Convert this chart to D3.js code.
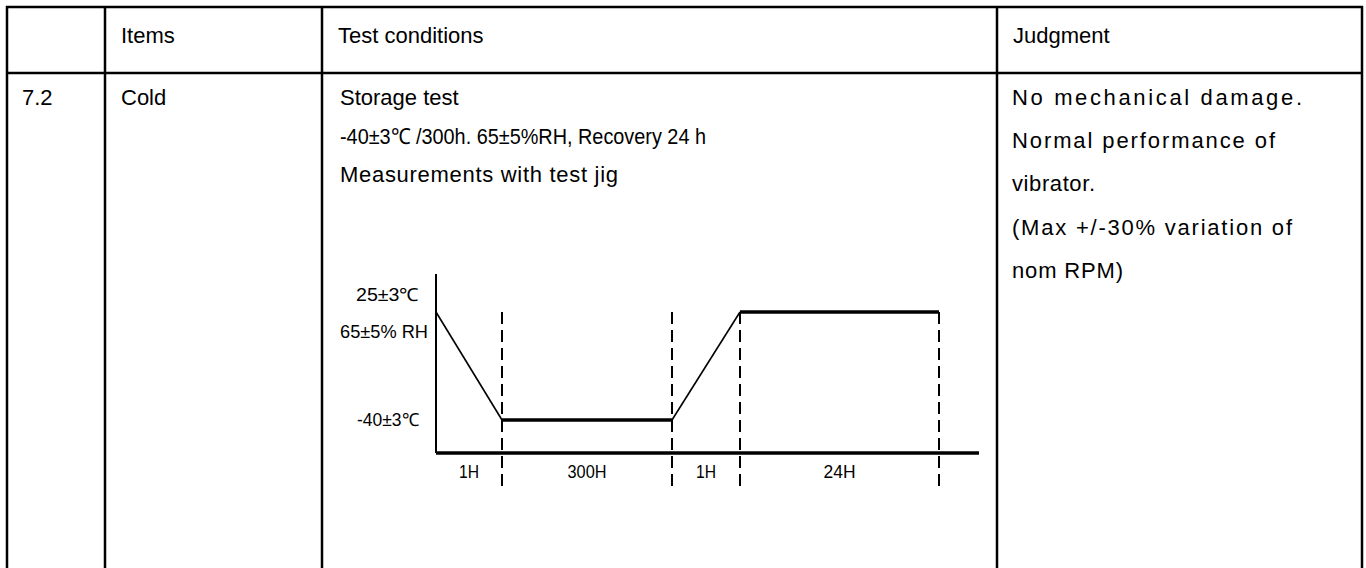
<!DOCTYPE html>
<html><head><meta charset="utf-8">
<script src="https://cdn.jsdelivr.net/npm/d3@7"></script>
<style>
html,body{margin:0;padding:0;background:#fff;}
svg{display:block;}
text{font-family:"Liberation Sans",Arial,sans-serif;fill:#000;}
</style></head>
<body>
<script>
// ---- table content ----
const headers = ["", "Items", "Test conditions", "Judgment"];
const rowNo = ["7.2"];
const itemText = ["Cold"];
const conditionLines = ["Storage test", "-40±3℃ /300h. 65±5%RH, Recovery 24 h", "Measurements with test jig"];
const judgmentLines = ["No mechanical damage.", "Normal performance of", "vibrator.", "(Max +/-30% variation of", "nom RPM)"];

// ---- chart data ----
const phaseLabels = ["1H", "300H", "1H", "24H"];
const phaseIndex = [0, 1, 2, 3, 4];          // boundaries between phases
const profileTemp = [25, -40, -40, 25, 25];  // temperature at each boundary (°C)
const levelLabelsTop = ["25±3℃", "65±5% RH"];
const levelLabelBottom = "-40±3℃";

const W = 1366, H = 568;
const svg = d3.select("body").append("svg").attr("width", W).attr("height", H);

// ---- table grid ----
const colX = [7, 105, 322, 997, 1362];
const rowY = [7, 73];
const grid = svg.append("g").attr("stroke", "#000").attr("stroke-width", 2.5);
colX.forEach(x => grid.append("line").attr("x1", x).attr("x2", x).attr("y1", 6).attr("y2", H));
rowY.forEach(y => grid.append("line").attr("x1", 6).attr("x2", 1363).attr("y1", y).attr("y2", y));

const fs = 22, pad = 16;
function fitText(sel, len, mode) {
  if (len) sel.attr("textLength", len).attr("lengthAdjust", mode || "spacing");
  return sel;
}
headers.forEach((h, i) => {
  if (!h) return;
  svg.append("text").attr("x", colX[i] + pad).attr("y", 43).attr("font-size", fs).text(h);
});
svg.append("text").attr("x", colX[0] + 15).attr("y", 105).attr("font-size", fs).text(rowNo[0]);
svg.append("text").attr("x", colX[1] + pad).attr("y", 105).attr("font-size", fs).text(itemText[0]);

const condLen = [0, 366, 278];
const condMode = [null, "spacingAndGlyphs", "spacing"];
conditionLines.forEach((t, i) => {
  fitText(svg.append("text").attr("x", colX[2] + 18).attr("y", 105 + i * 38.5).attr("font-size", fs).text(t), condLen[i], condMode[i]);
});
const judgLen = [290, 263, 83, 280, 111];
judgmentLines.forEach((t, i) => {
  fitText(svg.append("text").attr("x", colX[3] + 15).attr("y", 105 + i * 43.2).attr("font-size", fs).text(t), judgLen[i]);
});

// ---- chart ----
const x = d3.scaleLinear().domain(phaseIndex).range([436, 502, 672, 740, 939]);
const y = d3.scaleLinear().domain([-40, 25]).range([420, 312]);
const axisY = 453;
const chart = svg.append("g");

// dashed phase boundaries
chart.selectAll("line.dash").data(phaseIndex.slice(1)).enter().append("line")
  .attr("x1", d => x(d)).attr("x2", d => x(d))
  .attr("y1", y(25)).attr("y2", 490)
  .attr("stroke", "#000").attr("stroke-width", 2).attr("stroke-dasharray", "12,6");

// axes
chart.append("line").attr("x1", x(0)).attr("x2", x(0)).attr("y1", 274).attr("y2", axisY)
  .attr("stroke", "#000").attr("stroke-width", 2);
chart.append("line").attr("x1", x(0)).attr("x2", 979).attr("y1", axisY).attr("y2", axisY)
  .attr("stroke", "#000").attr("stroke-width", 3.5);

// profile segments: ramps thin, holds thick
for (let i = 0; i < phaseIndex.length - 1; i++) {
  const flat = profileTemp[i] === profileTemp[i + 1];
  chart.append("line")
    .attr("x1", x(phaseIndex[i])).attr("y1", y(profileTemp[i]))
    .attr("x2", x(phaseIndex[i + 1])).attr("y2", y(profileTemp[i + 1]))
    .attr("stroke", "#000").attr("stroke-width", flat ? 3.5 : 1.6);
}

// level labels (condensed)
const lf = 18;
fitText(chart.append("text").attr("x", 419).attr("y", y(25) - 16).attr("text-anchor", "end")
  .attr("font-size", lf).attr("dominant-baseline", "middle").text(levelLabelsTop[0]), 63, "spacingAndGlyphs");
fitText(chart.append("text").attr("x", 428).attr("y", y(25) + 21).attr("text-anchor", "end")
  .attr("font-size", lf).attr("dominant-baseline", "middle").text(levelLabelsTop[1]), 88, "spacingAndGlyphs");
fitText(chart.append("text").attr("x", 419).attr("y", y(-40) + 1).attr("text-anchor", "end")
  .attr("font-size", lf).attr("dominant-baseline", "middle").text(levelLabelBottom), 62, "spacingAndGlyphs");

// phase labels
const phaseLen = [20, 39, 20, 32];
chart.selectAll("text.phase").data(phaseLabels).enter().append("text")
  .attr("x", (d, i) => (x(phaseIndex[i]) + x(phaseIndex[i + 1])) / 2)
  .attr("y", 473).attr("text-anchor", "middle").attr("dominant-baseline", "middle")
  .attr("font-size", lf).attr("textLength", (d, i) => phaseLen[i]).attr("lengthAdjust", "spacingAndGlyphs")
  .text(d => d);
</script>
</body></html>
